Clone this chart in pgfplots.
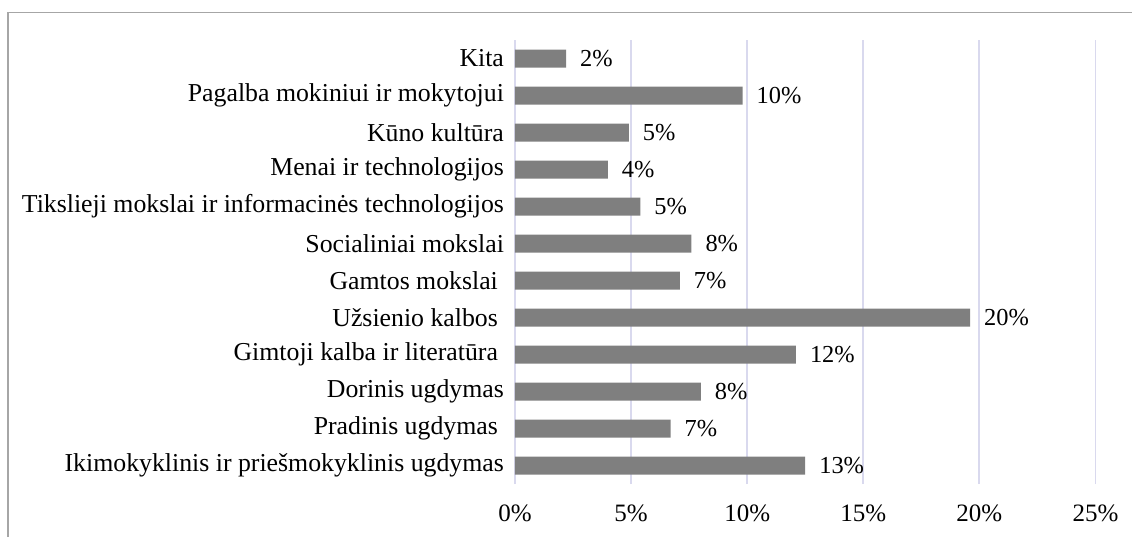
\documentclass[border=0pt]{standalone}
\usepackage{fontspec}
\setmainfont{Liberation Serif}
\usepackage{pgfplots}
\pgfplotsset{compat=1.18}

\definecolor{barc}{RGB}{127,127,127}
\definecolor{gridc}{RGB}{217,217,238}
\definecolor{framec}{RGB}{166,166,166}

\begin{document}
\begin{tikzpicture}
% picture area = 1132 x 537 px at 0.5pt per px, origin at top left
\useasboundingbox (0,0) rectangle (566pt,-268.5pt);
\draw[framec, line width=0.8pt] (4pt,-268.5pt) -- (4pt,-6.15pt) -- (566pt,-6.15pt);

\begin{axis}[
    at={(257.5pt,-242pt)}, anchor=south west,
    scale only axis,
    width=290.25pt, height=222pt,
    xbar, bar width=9pt,
    xmin=0, xmax=25,
    ymin=-0.5, ymax=11.5,
    xtick={0,5,10,15,20,25},
    xticklabels={0\%,5\%,10\%,15\%,20\%,25\%},
    ytick={0,...,11},
    yticklabels={
        Ikimokyklinis ir priešmokyklinis ugdymas,
        Pradinis ugdymas\kern3pt,
        Dorinis ugdymas,
        Gimtoji kalba ir literatūra\kern3pt,
        Užsienio kalbos\kern3pt,
        Gamtos mokslai\kern3pt,
        Socialiniai mokslai,
        Tikslieji mokslai ir informacinės technologijos,
        Menai ir technologijos,
        Kūno kultūra,
        Pagalba mokiniui ir mokytojui,
        Kita},
    axis line style={draw=none},
    major tick length=0pt,
    xmajorgrids,
    grid style={gridc, line width=0.9pt},
    xticklabel style={font=\fontsize{12.5}{14}\selectfont, yshift=-7pt},
    yticklabel style={font=\fontsize{12.9}{15}\selectfont, xshift=-2pt},
    point meta=explicit symbolic,
    nodes near coords,
    nodes near coords style={font=\fontsize{12.2}{14}\selectfont, anchor=west, xshift=3.5pt},
]
\addplot[fill=barc, draw=none] coordinates {
    (12.5,0) [13\%]
    (6.7,1)  [7\%]
    (8.0,2)  [8\%]
    (12.1,3) [12\%]
    (19.6,4) [20\%]
    (7.1,5)  [7\%]
    (7.6,6)  [8\%]
    (5.4,7)  [5\%]
    (4.0,8)  [4\%]
    (4.9,9)  [5\%]
    (9.8,10) [10\%]
    (2.2,11) [2\%]
};
\end{axis}
\end{tikzpicture}
\end{document}
